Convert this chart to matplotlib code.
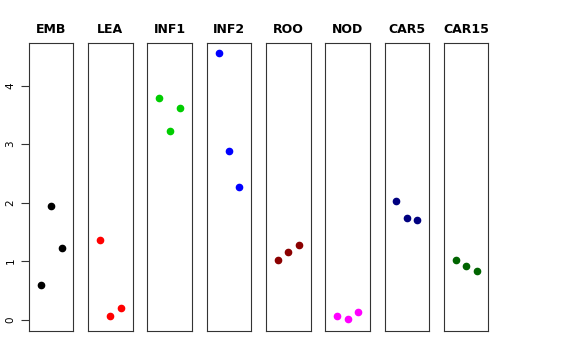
import numpy as np
import matplotlib.pyplot as plt

# tissues and the three values per tissue
tissues = ["EMB", "LEA", "INF1", "INF2", "ROO", "NOD", "CAR5", "CAR15"]
colors = ["black", "red", "#00CD00", "blue", "#8B0000", "magenta", "#000080", "#006400"]
emb = [0.59, 1.95, 1.23]
lea = [1.37, 0.07, 0.20]
inf1 = [3.78, 3.22, 3.62]
inf2 = [4.55, 2.89, 2.26]
roo = [1.02, 1.16, 1.27]
nod = [0.07, 0.02, 0.14]
car5 = [2.02, 1.73, 1.70]
car15 = [1.02, 0.91, 0.83]
values = [emb, lea, inf1, inf2, roo, nod, car5, car15]
xs = [1, 2, 3]

fig, axes = plt.subplots(1, 8, figsize=(5.76, 3.6), dpi=100, sharey=True)
fig.subplots_adjust(left=0.05, right=0.848, top=0.881, bottom=0.081, wspace=0.33)

for ax, name, col, vals in zip(axes, tissues, colors, values):
    ax.plot(xs, vals, "o", color=col, ms=4.5)
    ax.set_xlim(-0.14, 4.14)
    ax.set_ylim(-0.19, 4.73)
    ax.set_title(name, fontsize=9, fontweight="bold", pad=7)
    ax.set_xticks([])
    for s in ax.spines.values():
        s.set_linewidth(0.8)
        s.set_color("#333333")
    ax.tick_params(axis="y", left=False, labelleft=False)

axes[0].set_yticks([0, 1, 2, 3, 4])
axes[0].tick_params(axis="y", left=True, labelleft=True, length=5.5, width=0.8,
                    labelsize=7.5, labelrotation=90, color="#333333", pad=4)
for lbl in axes[0].get_yticklabels():
    lbl.set_verticalalignment("center")

fig.savefig("out.png")
